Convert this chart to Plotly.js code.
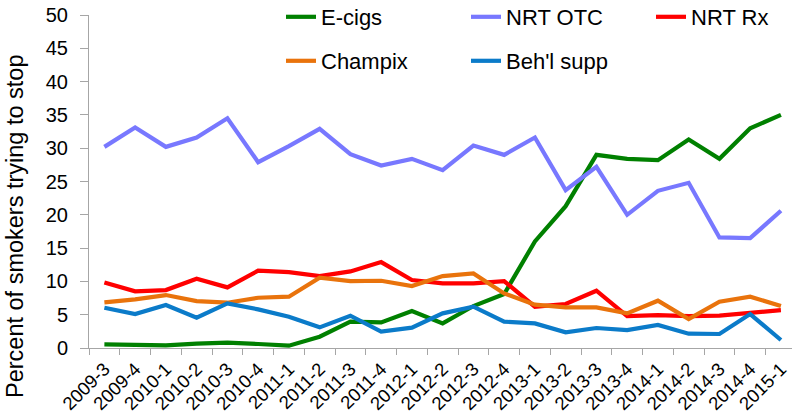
<!DOCTYPE html>
<html>
<head>
<meta charset="utf-8">
<script src="https://cdn.plot.ly/plotly-3.0.1.min.js"></script>
<style>html,body{margin:0;padding:0;background:#fff;}#chart{width:792px;height:414px;}</style>
</head>
<body>
<div id="chart"></div>
<script>
const categories = ["2009-3","2009-4","2010-1","2010-2","2010-3","2010-4","2011-1","2011-2","2011-3","2011-4","2012-1","2012-2","2012-3","2012-4","2013-1","2013-2","2013-3","2013-4","2014-1","2014-2","2014-3","2014-4","2015-1"];
const eCigs    = [0.55,0.5,0.4,0.65,0.8,0.6,0.35,1.7,3.95,3.85,5.55,3.7,6.3,8.1,16.0,21.3,29.0,28.4,28.2,31.3,28.4,33.0,35.0];
const nrtOtc   = [30.2,33.1,30.2,31.6,34.5,27.9,30.3,32.9,29.1,27.4,28.4,26.7,30.4,29.0,31.6,23.7,27.2,20.0,23.6,24.8,16.6,16.5,20.6];
const nrtRx    = [9.85,8.5,8.7,10.4,9.1,11.6,11.4,10.8,11.5,12.9,10.2,9.7,9.7,10.05,6.2,6.6,8.6,4.8,4.95,4.8,4.85,5.3,5.7];
const champix  = [6.85,7.3,7.95,7.05,6.8,7.55,7.7,10.55,10.05,10.1,9.3,10.8,11.2,8.2,6.5,6.1,6.1,5.2,7.1,4.35,6.95,7.7,6.3];
const behlSupp = [6.05,5.1,6.45,4.55,6.7,5.8,4.7,3.1,4.85,2.45,3.05,5.2,6.2,3.95,3.7,2.35,3.0,2.7,3.45,2.15,2.1,5.1,1.2];
const seriesNames = ["E-cigs","NRT OTC","NRT Rx","Champix","Beh'l supp"];
const yTickVals = [0,5,10,15,20,25,30,35,40,45,50];

const colors = ['#008000','#7878FF','#FF0000','#E9730C','#0B7BC9'];
const allSeries = [eCigs, nrtOtc, nrtRx, champix, behlSupp];
const legendOf = ['legend','legend','legend','legend2','legend2'];

const traces = allSeries.map((vals, i) => ({
  x: categories,
  y: vals,
  name: seriesNames[i],
  type: 'scatter',
  mode: 'lines',
  line: {color: colors[i], width: 4.2},
  legend: legendOf[i]
}));

const FONT = '"Liberation Sans", Arial, sans-serif';
const PL = 89, PT = 15, PW = 703, PH = 333;
const legendCommon = {
  orientation: 'h',
  xref: 'container', yref: 'container',
  xanchor: 'left', yanchor: 'middle',
  entrywidth: 140, entrywidthmode: 'pixels',
  font: {family: FONT, size: 22, color: '#000'},
  bgcolor: 'rgba(0,0,0,0)', borderwidth: 0,
  itemwidth: 30
};

const layout = {
  width: 792, height: 414,
  margin: {l: PL, r: 792 - PL - PW, t: PT, b: 414 - PT - PH, pad: 0, autoexpand: false},
  paper_bgcolor: '#fff', plot_bgcolor: '#fff',
  font: {family: FONT, size: 18, color: '#000'},
  showlegend: true,
  legend: Object.assign({}, legendCommon, {x: 281 / 792, y: 1 - 17 / 414}),
  legend2: Object.assign({}, legendCommon, {x: 281 / 792, y: 1 - 61 / 414}),
  xaxis: {
    type: 'category',
    range: [-0.5, 22.36],
    showline: true, linecolor: '#A6A6A6', linewidth: 1,
    ticks: 'outside', ticklen: 6, tickcolor: '#A6A6A6', tickson: 'boundaries',
    tickangle: -45,
    ticklabelstandoff: 2,
    tickfont: {family: FONT, size: 18.5, color: '#000'},
    showgrid: false, zeroline: false, automargin: false, fixedrange: true
  },
  yaxis: {
    range: [0, 50],
    tickvals: yTickVals,
    showline: true, linecolor: '#A6A6A6', linewidth: 1,
    ticks: 'outside', ticklen: 8, tickcolor: '#A6A6A6',
    ticklabelstandoff: 8,
    tickfont: {family: FONT, size: 20, color: '#000'},
    showgrid: false, zeroline: false, automargin: false, fixedrange: true
  },
  annotations: [{
    text: 'Percent of smokers trying to stop',
    xref: 'paper', yref: 'paper',
    x: (15 - PL) / PW, y: (PT + PH - 226) / PH,
    xanchor: 'center', yanchor: 'middle',
    textangle: -90, showarrow: false,
    font: {family: FONT, size: 23.5, color: '#000'}
  }]
};

Plotly.newPlot('chart', traces, layout, {displayModeBar: false, staticPlot: true});
</script>
</body>
</html>
